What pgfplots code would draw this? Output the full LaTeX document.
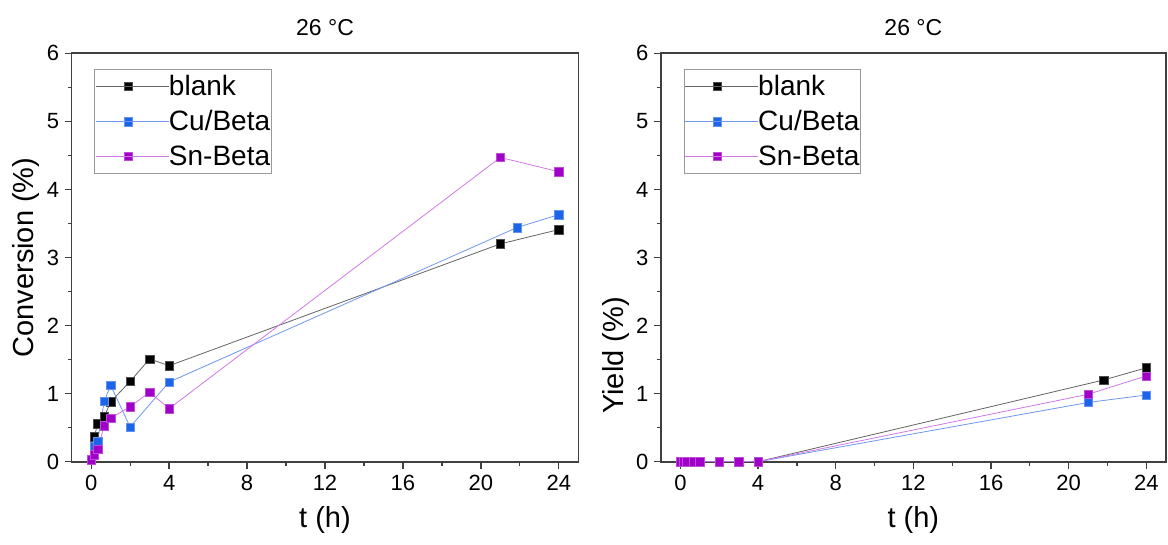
\documentclass[border=0pt]{standalone}
\usepackage{pgfplots}
\pgfplotsset{compat=1.18}
\usepackage{fontspec}
\setmainfont{Liberation Sans}
\definecolor{cblue}{RGB}{30,100,232}
\definecolor{cpurp}{RGB}{160,0,200}
\definecolor{lblack}{RGB}{100,100,100}
\definecolor{lblue}{RGB}{110,150,240}
\definecolor{lpurp}{RGB}{210,120,230}
\pgfplotsset{
  myaxis/.style={
    scale only axis,
    width=505pt, height=408.4pt,
    xmin=-1, xmax=25, ymin=0, ymax=6,
    xtick={0,4,...,24}, ytick={0,1,...,6},
    minor x tick num=1, minor y tick num=1,
    tick align=outside, xtick pos=bottom, ytick pos=left,
    major tick length=7pt, minor tick length=4pt,
    every tick/.style={line width=1.3pt, black!75},
    axis line style={line width=1.6pt, black!75},
    /pgf/number format/assume math mode=true,
    tick label style={font=\fontsize{22}{26}\selectfont},
    xticklabel style={yshift=-3pt},
    yticklabel style={xshift=-2pt},
    title style={font=\fontsize{23}{27}\selectfont, at={(axis description cs:0.5,1)}, anchor=south, inner sep=0pt, yshift=11pt},
    label style={font=\fontsize{29}{34}\selectfont},
    xlabel style={at={(axis description cs:0.5,-0.1085)}, anchor=north, inner sep=0pt},
    legend cell align=left,
    legend style={at={(axis description cs:0.0446,0.9616)}, anchor=north west,
      draw=black!40, line width=0.8pt, fill=white,
      font=\fontsize{28}{32}\selectfont, inner xsep=1pt, inner ysep=4pt, row sep=9.5pt,
      nodes={inner xsep=0pt}},
    legend image code/.code={\draw[mark repeat=2,mark phase=2] plot coordinates {(0pt,0pt) (32pt,0pt) (64pt,0pt)};
      \path (0pt,0pt) -- (72.5pt,0pt);},
  },
  sblank/.style={lblack, line width=0.8pt, mark=square*, mark size=4.2pt, mark options={solid, fill=black, draw=black!70, line width=0.4pt}},
  scu/.style={lblue, line width=0.8pt, mark=square*, mark size=4.2pt, mark options={solid, fill=cblue, draw=cblue!70, line width=0.4pt}},
  ssn/.style={lpurp, line width=0.8pt, mark=square*, mark size=4.2pt, mark options={solid, fill=cpurp, draw=cpurp!70, line width=0.4pt}},
}
\begin{document}
\begin{tikzpicture}
\path[use as bounding box] (0,0) rectangle (1168pt,544pt);
\begin{axis}[myaxis, at={(71.7pt,82.3pt)}, anchor=south west, width=506.6pt,
  title={26 °C}, xlabel={t (h)}, ylabel={Conversion (\%)},
  ylabel style={at={(axis description cs:-0.118,0.5)}, anchor=north, inner sep=0pt}]
\addplot[sblank] coordinates {(0.17,0.37) (0.33,0.56) (0.67,0.66) (1,0.88) (2,1.18) (3,1.51) (4,1.41) (21,3.20) (24,3.41)};
\addlegendentry{blank}
\addplot[scu] coordinates {(0.17,0.23) (0.33,0.30) (0.67,0.89) (1,1.12) (2,0.51) (4,1.17) (21.85,3.44) (24,3.63)};
\addlegendentry{Cu/Beta}
\addplot[ssn] coordinates {(0,0.03) (0.17,0.10) (0.33,0.18) (0.67,0.53) (1,0.64) (2,0.81) (3,1.02) (4,0.78) (21,4.47) (24,4.26)};
\addlegendentry{Sn-Beta}
\end{axis}
\begin{axis}[myaxis, at={(661pt,82.3pt)}, anchor=south west, width=504.7pt,
  title={26 °C}, xlabel={t (h)}, ylabel={Yield (\%)},
  ylabel style={at={(axis description cs:-0.116,0.26)}, anchor=north, inner sep=0pt}]
\addplot[sblank] coordinates {(0,0) (0.17,0) (0.33,0) (0.67,0) (1,0) (2,0) (3,0) (4,0) (21.8,1.20) (24,1.38)};
\addlegendentry{blank}
\addplot[scu] coordinates {(0,0) (0.17,0) (0.33,0) (0.67,0) (1,0) (2,0) (3,0) (4,0) (21,0.87) (24,0.98)};
\addlegendentry{Cu/Beta}
\addplot[ssn] coordinates {(0,0) (0.17,0) (0.33,0) (0.67,0) (1,0) (2,0) (3,0) (4,0) (21,0.99) (24,1.26)};
\addlegendentry{Sn-Beta}
\end{axis}
\end{tikzpicture}
\end{document}
